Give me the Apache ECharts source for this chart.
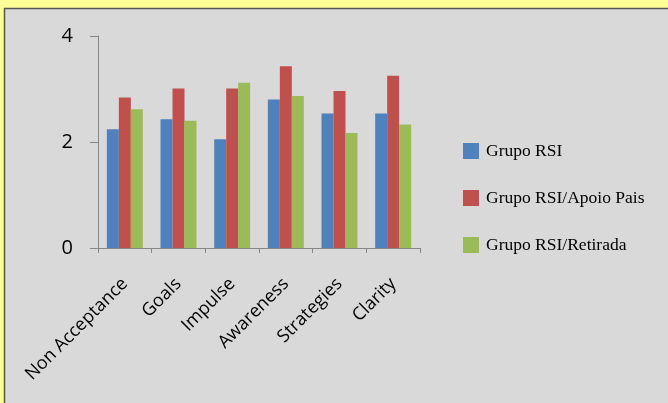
<!DOCTYPE html>
<html>
<head>
<meta charset="utf-8">
<script src="https://cdn.jsdelivr.net/npm/echarts@6/dist/echarts.min.js"></script>
<style>
    html, body { margin: 0; padding: 0; background: #ffff99; }
    #main { width: 668px; height: 403px; }
</style>
</head>
<body>
<div id="main"></div>
<script>
    var categories = ['Non Acceptance', 'Goals', 'Impulse', 'Awareness', 'Strategies', 'Clarity'];
    var grupoRSI = [2.24, 2.43, 2.05, 2.80, 2.54, 2.54];
    var grupoApoio = [2.84, 3.01, 3.01, 3.43, 2.96, 3.25];
    var grupoRetirada = [2.62, 2.40, 3.12, 2.87, 2.17, 2.33];
    var yTicks = [0, 2, 4];

    var myChart = echarts.init(document.getElementById('main'));

    var option = {
        backgroundColor: '#ffff99',
        animation: false,
        graphic: [{
            type: 'rect',
            z: -10,
            shape: {x: 4.5, y: 8.5, width: 700, height: 420},
            style: {fill: '#d9d9d9', stroke: '#555', lineWidth: 1.5}
        }],
        grid: {left: 98, top: 36, right: 248, bottom: 155},
        legend: {
            orient: 'vertical',
            left: 458,
            top: 137,
            itemGap: 29,
            itemWidth: 16,
            itemHeight: 16,
            icon: 'rect',
            textStyle: {fontFamily: 'Liberation Serif', fontSize: 17.5, color: '#000', padding: [0, 0, 0, 2]},
            data: ['Grupo RSI', 'Grupo RSI/Apoio Pais', 'Grupo RSI/Retirada']
        },
        xAxis: {
            type: 'category',
            data: categories,
            axisLine: {lineStyle: {color: '#868686'}},
            axisTick: {show: true, length: 5, lineStyle: {color: '#868686'}},
            axisLabel: {
                rotate: 45,
                interval: 0,
                margin: 33,
                fontFamily: 'Open Sans',
                fontSize: 18,
                color: '#000'
            }
        },
        yAxis: {
            type: 'value',
            min: 0,
            max: 4,
            interval: 2,
            splitLine: {show: false},
            axisLine: {show: true, lineStyle: {color: '#868686'}},
            axisTick: {show: true, length: 8, lineStyle: {color: '#868686'}},
            axisLabel: {
                margin: 25,
                fontFamily: 'Open Sans',
                fontSize: 20,
                color: '#000',
                formatter: function (v) { return yTicks.indexOf(v) >= 0 ? String(v) : ''; }
            }
        },
        series: [
            {name: 'Grupo RSI', type: 'bar', data: grupoRSI, barGap: '0%', barCategoryGap: '33%',
                itemStyle: {color: '#4f81bd'}},
            {name: 'Grupo RSI/Apoio Pais', type: 'bar', data: grupoApoio,
                itemStyle: {color: '#c0504d'}},
            {name: 'Grupo RSI/Retirada', type: 'bar', data: grupoRetirada,
                itemStyle: {color: '#9bbb59'}}
        ]
    };

    myChart.setOption(option);
</script>
</body>
</html>
